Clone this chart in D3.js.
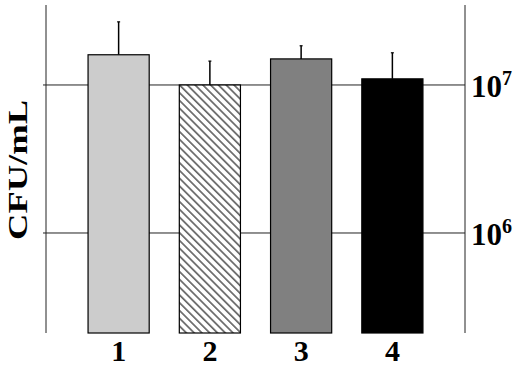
<!DOCTYPE html>
<html>
<head>
<meta charset="utf-8">
<script src="https://cdn.jsdelivr.net/npm/d3@7"></script>
<style>
  body { margin: 0; background: #fff; }
  svg { display: block; }
  text { font-family: "Times New Roman", Times, "Liberation Serif", Tinos, serif; font-weight: 700; }
</style>
</head>
<body>
<svg width="520" height="366"></svg>
<script>
const svg = d3.select("svg"),
  width = +svg.attr("width"),
  height = +svg.attr("height");

// Datos
const groups = ["1", "2", "3", "4"];
const means = [1.6e7, 1.0e7, 1.5e7, 1.1e7];
const errTops = [2.67e7, 1.45e7, 1.84e7, 1.65e7];
const tickValues = [1e6, 1e7];
const fills = ["#cccccc", "url(#hatch)", "#808080", "#000000"];

// Escalas
const xScale = d3.scaleBand()
  .domain(groups)
  .range([73, 438])
  .paddingInner(0.33)
  .paddingOuter(0.165);

const yScale = d3.scaleLog()
  .domain([2.11e5, 3.47e7])
  .range([333, 5]);

const left = 46, right = 465;

// Patrón rayado para la barra 2
const defs = svg.append("defs");
defs.append("pattern")
  .attr("id", "hatch")
  .attr("patternUnits", "userSpaceOnUse")
  .attr("width", 5.5)
  .attr("height", 5.5)
  .attr("patternTransform", "rotate(-45)")
  .call(p => {
    p.append("rect").attr("width", 5.5).attr("height", 5.5).attr("fill", "#fff");
    p.append("line")
      .attr("x1", 0).attr("y1", 0).attr("x2", 0).attr("y2", 5.5)
      .attr("stroke", "#666").attr("stroke-width", 3.4);
  });

// Líneas de cuadrícula
svg.append("g")
  .selectAll("line")
  .data(tickValues)
  .join("line")
  .attr("x1", left - 3)
  .attr("x2", right)
  .attr("y1", d => yScale(d))
  .attr("y2", d => yScale(d))
  .attr("stroke", "#222")
  .attr("stroke-width", 1);

// Ejes verticales
[left, right].forEach(x => {
  svg.append("line")
    .attr("x1", x).attr("x2", x)
    .attr("y1", yScale.range()[1]).attr("y2", yScale.range()[0])
    .attr("stroke", "#222")
    .attr("stroke-width", 1);
});

// Barras de error (solo hacia arriba)
const err = svg.append("g");
groups.forEach((g, i) => {
  const cx = xScale(g) + xScale.bandwidth() / 2;
  err.append("line")
    .attr("x1", cx).attr("x2", cx)
    .attr("y1", yScale(means[i])).attr("y2", yScale(errTops[i]))
    .attr("stroke", "#000").attr("stroke-width", 1.5);
  err.append("line")
    .attr("x1", cx - 1.5).attr("x2", cx + 1.5)
    .attr("y1", yScale(errTops[i])).attr("y2", yScale(errTops[i]))
    .attr("stroke", "#000").attr("stroke-width", 1.2);
});

// Barras
svg.append("g")
  .selectAll("rect")
  .data(groups)
  .join("rect")
  .attr("x", d => xScale(d))
  .attr("y", (d, i) => yScale(means[i]))
  .attr("width", xScale.bandwidth())
  .attr("height", (d, i) => yScale.range()[0] - yScale(means[i]))
  .attr("fill", (d, i) => fills[i])
  .attr("stroke", "#000")
  .attr("stroke-width", 1.2);

// Etiquetas de categoría
svg.append("g")
  .selectAll("text")
  .data(groups)
  .join("text")
  .attr("x", d => xScale(d) + xScale.bandwidth() / 2)
  .attr("y", 361)
  .attr("text-anchor", "middle")
  .style("font-size", "30px")
  .text(d => d);

// Etiquetas del eje derecho (10^n)
const tl = svg.append("g")
  .selectAll("text")
  .data(tickValues)
  .join("text")
  .attr("x", 471)
  .attr("y", d => yScale(d) + 12)
  .style("font-size", "31px");
tl.append("tspan").text("10");
tl.append("tspan")
  .attr("dy", -12)
  .style("font-size", "20px")
  .text(d => Math.round(Math.log10(d)));

// Título del eje Y
svg.append("text")
  .attr("transform", "translate(27,170) rotate(-90)")
  .attr("text-anchor", "middle")
  .attr("textLength", 140)
  .attr("lengthAdjust", "spacingAndGlyphs")
  .style("font-size", "28px")
  .text("CFU/mL");
</script>
</body>
</html>
